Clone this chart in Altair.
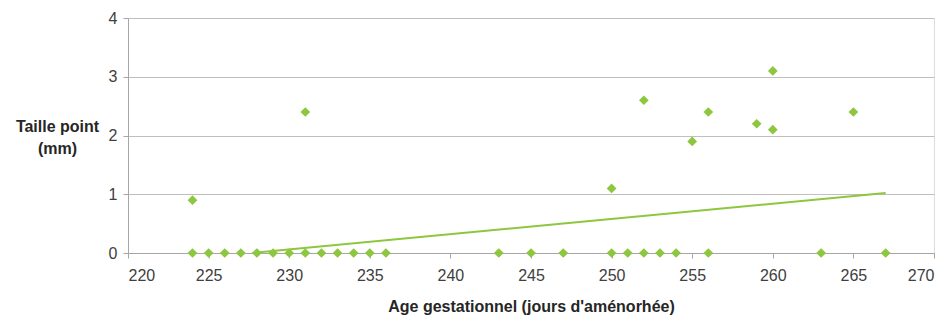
import altair as alt
import pandas as pd

# Scatter data (gestational age in days, point size in mm)
age = [224, 225, 226, 227, 228, 229, 230, 231, 232, 233, 234, 235, 236,
       243, 245, 247, 250, 251, 252, 253, 254, 256, 263, 267,
       224, 231, 250, 252, 255, 256, 259, 260, 260, 265]
taille = [0, 0, 0, 0, 0, 0, 0, 0, 0, 0, 0, 0, 0,
          0, 0, 0, 0, 0, 0, 0, 0, 0, 0, 0,
          0.9, 2.4, 1.1, 2.6, 1.9, 2.4, 2.2, 2.1, 3.1, 2.4]

# Trend line endpoints
trend_x = [227.7, 267]
trend_y = [0, 1.02]

x_ticks = [220, 225, 230, 235, 240, 245, 250, 255, 260, 265, 270]
y_ticks = [0, 1, 2, 3, 4]

GREEN = "#8DC63F"
FONT = "Liberation Sans"

pts = pd.DataFrame({"age": age, "taille": taille})
trend = pd.DataFrame({"age": trend_x, "taille": trend_y})

xenc = alt.X("age:Q",
             scale=alt.Scale(domain=[220, 270], nice=False, zero=False),
             axis=alt.Axis(values=x_ticks, grid=False, format="d",
                           title="Age gestationnel (jours d'aménorhée)",
                           titleFontWeight="bold", titleFontSize=16, titlePadding=15,
                           labelFontSize=16, labelPadding=9, tickSize=5,
                           domainColor="#A6A6A6", tickColor="#A6A6A6",
                           labelColor="#404040", titleColor="#262626",
                           labelFont=FONT, titleFont=FONT))
yenc = alt.Y("taille:Q",
             scale=alt.Scale(domain=[0, 4], nice=False),
             axis=alt.Axis(values=y_ticks, grid=True, gridColor="#BFBFBF", format="d",
                           title=["Taille point", "(mm)"], titleAngle=0,
                           titleFontWeight="bold", titleFontSize=16,
                           titleAlign="center", titleBaseline="alphabetic",
                           titleX=-71, titleY=113, titleLineHeight=22,
                           labelFontSize=16, labelPadding=6, tickSize=5,
                           domainColor="#A6A6A6", tickColor="#A6A6A6",
                           labelColor="#404040", titleColor="#262626",
                           labelFont=FONT, titleFont=FONT))

points = alt.Chart(pts).mark_point(shape="diamond", filled=True, size=95,
                                   color=GREEN, opacity=1).encode(x=xenc, y=yenc)
line = alt.Chart(trend).mark_line(color=GREEN, strokeWidth=2).encode(x="age:Q", y="taille:Q")

chart = alt.layer(line, points).properties(
    width=806, height=235,
    padding={"left": 120, "top": 10, "right": 8, "bottom": 64},
    autosize=alt.AutoSizeParams(type="none"),
).configure_view(stroke=None).configure(background="white")

chart.save("out.html", embed_options={"renderer": "svg", "actions": False})
